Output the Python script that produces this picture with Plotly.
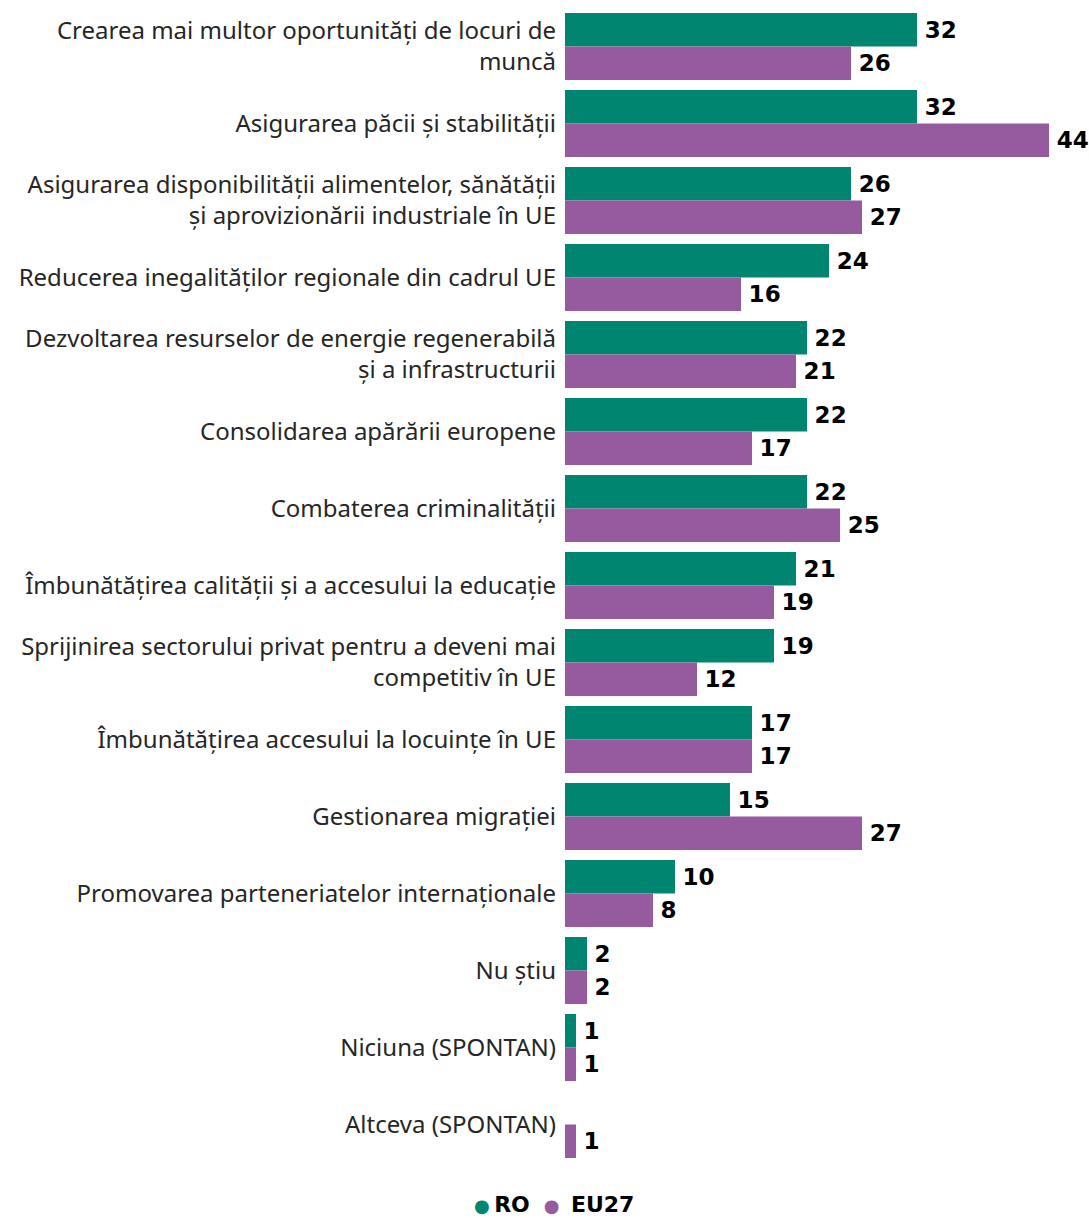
import plotly.graph_objects as go

categories = [
    "Crearea mai multor oportunități de locuri de<br>muncă",
    "Asigurarea păcii și stabilității",
    "Asigurarea disponibilității alimentelor, sănătății<br>și aprovizionării industriale în UE",
    "Reducerea inegalităților regionale din cadrul UE",
    "Dezvoltarea resurselor de energie regenerabilă<br>și a infrastructurii",
    "Consolidarea apărării europene",
    "Combaterea criminalității",
    "Îmbunătățirea calității și a accesului la educație",
    "Sprijinirea sectorului privat pentru a deveni mai<br>competitiv în UE",
    "Îmbunătățirea accesului la locuințe în UE",
    "Gestionarea migrației",
    "Promovarea parteneriatelor internaționale",
    "Nu știu",
    "Niciuna (SPONTAN)",
    "Altceva (SPONTAN)",
]
ro_values = [32, 32, 26, 24, 22, 22, 22, 21, 19, 17, 15, 10, 2, 1, None]
eu_values = [26, 44, 27, 16, 21, 17, 25, 19, 12, 17, 27, 8, 2, 1, 1]
series_names = ["RO", "EU27"]

GREEN = "#008570"
PURPLE = "#965B9F"
label_font = dict(family="DejaVu Sans", size=23, color="#000000")

def fmt(vals):
    return ["\u2009<b>%d</b>" % v if v is not None else "" for v in vals]

fig = go.Figure()
fig.add_trace(go.Bar(
    y=categories, x=ro_values, orientation="h", name=series_names[0],
    marker=dict(color=GREEN, line=dict(width=0)),
    text=fmt(ro_values), textposition="outside", textfont=label_font,
    cliponaxis=False, showlegend=False,
))
fig.add_trace(go.Bar(
    y=categories, x=eu_values, orientation="h", name=series_names[1],
    marker=dict(color=PURPLE, line=dict(width=0)),
    text=fmt(eu_values), textposition="outside", textfont=label_font,
    cliponaxis=False, showlegend=False,
))

legend_text = (
    "<span style='color:%s;font-size:18px'>●</span>\u2009<b>%s</b>\u00a0\u00a0"
    "<span style='color:%s;font-size:18px'>●</span>\u00a0\u2009<b>%s</b>"
    % (GREEN, series_names[0], PURPLE, series_names[1])
)
fig.add_annotation(
    text=legend_text, xref="paper", yref="paper", x=-0.021, y=-0.036,
    xanchor="center", yanchor="middle", showarrow=False,
    font=dict(family="DejaVu Sans", size=22, color="#000000"),
)

fig.update_layout(
    width=1089, height=1218,
    margin=dict(l=565, r=2, t=8, b=55),
    paper_bgcolor="white", plot_bgcolor="white",
    barmode="group", bargap=0.13, bargroupgap=0,
    font=dict(family="Noto Sans", size=24, color="#262626"),
    showlegend=False,
    hovermode=False,
    xaxis=dict(range=[0, 47.45], visible=False, fixedrange=True),
    yaxis=dict(autorange="reversed", showgrid=False, zeroline=False, showline=False,
               ticks="", ticklabelstandoff=8, fixedrange=True,
               tickfont=dict(family="Noto Sans", size=24, color="#262626"),
               categoryorder="array", categoryarray=categories),
)

fig.write_html("out.html", config={"displayModeBar": False},
               post_script="document.body.style.margin='0';document.body.style.overflow='hidden';")
